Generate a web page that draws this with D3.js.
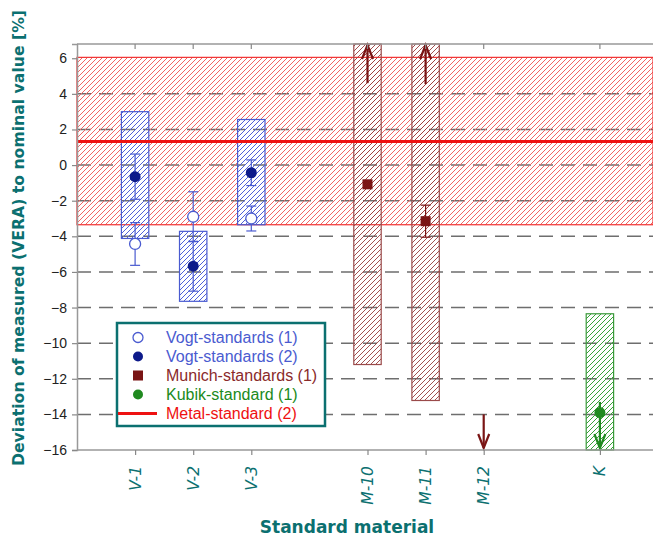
<!DOCTYPE html>
<html>
<head>
<meta charset="utf-8">
<script src="https://cdn.jsdelivr.net/npm/d3@7"></script>
<style>
body { margin: 0; background: #fff; }
svg { display: block; }
</style>
</head>
<body>
<svg id="chart" width="653" height="538"></svg>
<script>
// categories on the x axis
var categories = ["V-1", "V-2", "V-3", "M-10", "M-11", "M-12", "K"];
var catPos = [1, 2, 3, 5, 6, 7, 9];
var yTicks = [-16, -14, -12, -10, -8, -6, -4, -2, 0, 2, 4, 6];

// Vogt standards
var vogtCats = ["V-1", "V-2", "V-3"];
var vogt1Values = [-4.43, -2.9, -3.0];
var vogt1Err = [1.2, 1.4, 0.7];
var vogt2Values = [-0.65, -5.68, -0.43];
var vogt2Err = [1.27, 1.4, 0.72];
var vogtBoxLow = [-4.12, -7.65, -3.35];
var vogtBoxHigh = [3.0, -3.72, 2.56];

// Munich standards
var munichCats = ["M-10", "M-11"];
var munichValues = [-1.08, -3.15];
var munichErr = [0, 0.9];
var munichBoxLow = [-11.2, -13.22];
var munichBoxHigh = [6.8, 6.8];
var munichArrowUpFrom = [4.6, 4.55];
var munichArrowDownCat = ["M-12"];
var munichArrowDownFrom = [-14.0];

// Kubik standard
var kubikCats = ["K"];
var kubikValues = [-13.9];
var kubikErrTop = [-13.3];
var kubikBoxLow = [-16];
var kubikBoxHigh = [-8.35];

// Metal standard
var metalMean = 1.32;
var metalLow = -3.35;
var metalHigh = 6.05;

var legendLabels = ["Vogt-standards (1)", "Vogt-standards (2)", "Munich-standards (1)", "Kubik-standard (1)", "Metal-standard (2)"];

var blue = "#4a5bd0", navy = "#0d1a8a", brown = "#7a1515", green = "#208a20", red = "#ee1111", teal = "#0b7070";

var svg = d3.select("#chart");
var x = d3.scaleLinear().domain([0, 10]).range([77, 658]);
var y = d3.scaleLinear().domain([-16, 6.8]).range([450, 44]);
var posOf = function (c) { return x(catPos[categories.indexOf(c)]); };
var halfW = 13.7;

// hatch patterns
var defs = svg.append("defs");
function hatch(id, color, sw, sp) {
  var p = defs.append("pattern").attr("id", id).attr("patternUnits", "userSpaceOnUse")
    .attr("width", sp).attr("height", sp);
  p.append("path")
    .attr("d", "M" + (-1) + "," + 1 + " l2,-2 M0," + sp + " l" + sp + "," + (-sp) + " M" + (sp - 1) + "," + (sp + 1) + " l2,-2")
    .attr("stroke", color).attr("stroke-width", sw);
}
hatch("hRed", "#f26464", 1, 5);
hatch("hBlue", "#5060d8", 1, 5);
hatch("hBrown", "#9a3c3c", 0.9, 5);
hatch("hGreen", "#3aa03a", 1, 5);

var g = svg.append("g");
var plotR = 653;

// dashed grid
g.selectAll(".grid").data(yTicks.filter(function (d) { return d > -16 && d < 6; }))
  .enter().append("line")
  .attr("x1", x(0)).attr("x2", plotR)
  .attr("y1", function (d) { return y(d); }).attr("y2", function (d) { return y(d); })
  .attr("stroke", "#6e6e6e").attr("stroke-width", 1.5).attr("stroke-dasharray", "14,8");

// metal band
g.append("rect").attr("x", x(0)).attr("width", plotR - x(0))
  .attr("y", y(metalHigh)).attr("height", y(metalLow) - y(metalHigh))
  .attr("fill", "url(#hRed)").attr("stroke", "#f03030").attr("stroke-width", 1.2);

// boxes
function boxes(cats, lo, hi, fill, stroke) {
  g.selectAll(null).data(cats).enter().append("rect")
    .attr("x", function (d) { return posOf(d) - halfW; })
    .attr("width", halfW * 2)
    .attr("y", function (d, i) { return y(hi[i]); })
    .attr("height", function (d, i) { return y(lo[i]) - y(hi[i]); })
    .attr("fill", fill).attr("stroke", stroke).attr("stroke-width", 1.2);
}
boxes(vogtCats, vogtBoxLow, vogtBoxHigh, "url(#hBlue)", blue);
boxes(munichCats, munichBoxLow, munichBoxHigh, "url(#hBrown)", "#9a4a4a");
boxes(kubikCats, kubikBoxLow, kubikBoxHigh, "url(#hGreen)", "#3a9a3a");

// metal mean
g.append("line").attr("x1", x(0)).attr("x2", plotR)
  .attr("y1", y(metalMean)).attr("y2", y(metalMean))
  .attr("stroke", red).attr("stroke-width", 3);

// error bars
function errbars(cats, vals, errs, color) {
  cats.forEach(function (c, i) {
    if (!errs[i]) return;
    var cx = posOf(c);
    var t = y(vals[i] + errs[i]), b = y(vals[i] - errs[i]);
    g.append("line").attr("x1", cx).attr("x2", cx).attr("y1", t).attr("y2", b)
      .attr("stroke", color).attr("stroke-width", 1.2);
    [t, b].forEach(function (yy) {
      g.append("line").attr("x1", cx - 5).attr("x2", cx + 5).attr("y1", yy).attr("y2", yy)
        .attr("stroke", color).attr("stroke-width", 1.2);
    });
  });
}
errbars(vogtCats, vogt1Values, vogt1Err, blue);
errbars(vogtCats, vogt2Values, vogt2Err, blue);
errbars(munichCats, munichValues, munichErr, brown);

// arrows
function arrow(cx, y1, y2, color) {
  var dir = y2 > y1 ? -1 : 1;
  g.append("line").attr("x1", cx).attr("x2", cx).attr("y1", y1).attr("y2", y2)
    .attr("stroke", color).attr("stroke-width", 2.2);
  g.append("path")
    .attr("d", "M" + (cx - 5.5) + "," + (y2 + dir * 14) + " L" + cx + "," + y2 + " L" + (cx + 5.5) + "," + (y2 + dir * 14))
    .attr("fill", "none").attr("stroke", color).attr("stroke-width", 2.2);
}
munichCats.forEach(function (c, i) { arrow(posOf(c), y(munichArrowUpFrom[i]), y(6.8) + 1, brown); });
munichArrowDownCat.forEach(function (c, i) { arrow(posOf(c), y(munichArrowDownFrom[i]), y(-16) - 2, brown); });
kubikCats.forEach(function (c, i) { arrow(posOf(c), y(kubikErrTop[i]), y(-16) - 2, green); });

// points
g.selectAll(null).data(vogtCats).enter().append("circle")
  .attr("cx", posOf).attr("cy", function (d, i) { return y(vogt1Values[i]); })
  .attr("r", 5.5).attr("fill", "#fff").attr("stroke", blue).attr("stroke-width", 1.3);
g.selectAll(null).data(vogtCats).enter().append("circle")
  .attr("cx", posOf).attr("cy", function (d, i) { return y(vogt2Values[i]); })
  .attr("r", 5.5).attr("fill", navy);
g.selectAll(null).data(munichCats).enter().append("rect")
  .attr("x", function (d) { return posOf(d) - 5; })
  .attr("y", function (d, i) { return y(munichValues[i]) - 5; })
  .attr("width", 10).attr("height", 10).attr("fill", brown);
g.selectAll(null).data(kubikCats).enter().append("circle")
  .attr("cx", posOf).attr("cy", function (d, i) { return y(kubikValues[i]); })
  .attr("r", 5.5).attr("fill", green);

// axes
var yAxis = svg.append("g").attr("transform", "translate(" + x(0) + ",0)")
  .call(d3.axisLeft(y).tickValues(yTicks).tickSize(5).tickPadding(5));
yAxis.selectAll("text").attr("font-family", "Liberation Sans, Arial, sans-serif").attr("font-size", 14).attr("fill", "#222");

var xAxis = svg.append("g").attr("transform", "translate(0," + y(-16) + ")")
  .call(d3.axisBottom(x).tickValues(catPos).tickSize(5).tickFormat(""));
xAxis.select(".domain").attr("d", "M" + x(0) + ",0H" + plotR);

svg.append("line").attr("x1", x(0)).attr("x2", plotR).attr("y1", y(6.8)).attr("y2", y(6.8))
  .attr("stroke", "#999").attr("stroke-width", 1.5);
svg.selectAll(".topTick").data(catPos).enter().append("line")
  .attr("x1", x).attr("x2", x).attr("y1", y(6.8)).attr("y2", y(6.8) + 5)
  .attr("stroke", "#888").attr("stroke-width", 1.2);
svg.selectAll(".domain").attr("stroke", "#999").attr("stroke-width", 1.5);
svg.selectAll(".tick line").attr("stroke", "#888").attr("stroke-width", 1.2);

// x tick labels (rotated)
svg.selectAll(".xlab").data(categories).enter().append("text")
  .attr("transform", function (d, i) { return "translate(" + (x(catPos[i]) + 5.5) + ",466) rotate(-90)"; })
  .attr("text-anchor", "end")
  .attr("font-family", "DejaVu Sans, sans-serif").attr("font-style", "italic")
  .attr("font-size", 15.5).attr("fill", teal)
  .text(function (d) { return d; });

// axis titles
svg.append("text").attr("x", 347).attr("y", 533).attr("text-anchor", "middle")
  .attr("font-family", "DejaVu Sans, sans-serif").attr("font-weight", "bold")
  .attr("font-size", 17).attr("fill", teal).text("Standard material");
svg.append("text").attr("transform", "translate(24,238) rotate(-90)").attr("text-anchor", "middle")
  .attr("font-family", "DejaVu Sans, sans-serif").attr("font-weight", "bold")
  .attr("font-size", 15).attr("fill", teal)
  .attr("textLength", 456).attr("lengthAdjust", "spacingAndGlyphs")
  .text("Deviation of measured (VERA) to nominal value [%]");

// legend
var lg = svg.append("g");
lg.append("rect").attr("x", 117).attr("y", 323).attr("width", 208).attr("height", 103)
  .attr("fill", "#fff").attr("stroke", teal).attr("stroke-width", 2.5);
var legColors = [blue, blue, "#8a2a2a", green, red];
var rowY = function (i) { return 337.5 + i * 19; };
lg.append("circle").attr("cx", 138).attr("cy", rowY(0)).attr("r", 5).attr("fill", "#fff").attr("stroke", blue).attr("stroke-width", 1.3);
lg.append("circle").attr("cx", 138).attr("cy", rowY(1)).attr("r", 5).attr("fill", navy);
lg.append("rect").attr("x", 133).attr("y", rowY(2) - 5).attr("width", 10).attr("height", 10).attr("fill", brown);
lg.append("circle").attr("cx", 138).attr("cy", rowY(3)).attr("r", 5).attr("fill", green);
lg.append("line").attr("x1", 118).attr("x2", 157).attr("y1", rowY(4)).attr("y2", rowY(4))
  .attr("stroke", red).attr("stroke-width", 3);
lg.selectAll(null).data(legendLabels).enter().append("text")
  .attr("x", 166).attr("y", function (d, i) { return rowY(i) + 5.5; })
  .attr("font-family", "Liberation Sans, Arial, sans-serif").attr("font-size", 16)
  .attr("fill", function (d, i) { return legColors[i]; })
  .text(function (d) { return d; });
</script>
</body>
</html>
